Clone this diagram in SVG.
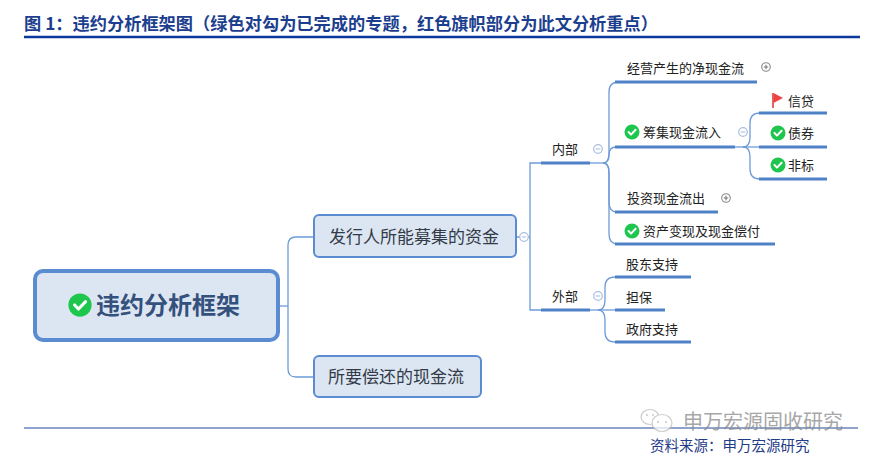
<svg xmlns="http://www.w3.org/2000/svg" width="877" height="462" viewBox="0 0 877 462">
<defs>
<style>
.t{font-family:"Noto Sans CJK SC","Noto Sans",sans-serif;}
.title{font-size:17px;font-weight:bold;fill:#1B3E8E;}
.box{fill:#DCE6F2;stroke:#5B8BD0;stroke-width:2;}
.root{fill:#DCE6F2;stroke:#5B8BD0;stroke-width:4;}
.bt{font-size:17px;fill:#333A48;}
.rt{font-size:24px;font-weight:bold;fill:#34507C;}
.lt{font-size:13px;fill:#222;}
.con{fill:none;stroke:#6E9BD8;stroke-width:1.3;}
.ul{stroke:#4F81C7;stroke-width:3;}
.ck{fill:#1EC64E;}
.tick{fill:none;stroke:#fff;stroke-width:2;stroke-linecap:round;stroke-linejoin:round;}
.cm{fill:#fff;stroke:#A9BEE3;stroke-width:1.2;}
.cp{fill:#fff;stroke:#8A8A8A;stroke-width:1.1;}
</style>
<g id="check"><circle class="ck" r="7.5"/><path class="tick" d="M-3.5,0 L-1,2.6 L3.6,-2.2"/></g>
</defs>

<!-- header -->
<text class="t title" x="24" y="30" textLength="634" lengthAdjust="spacingAndGlyphs">图 1：违约分析框架图（绿色对勾为已完成的专题，红色旗帜部分为此文分析重点）</text>
<line x1="24" y1="37" x2="860" y2="37" stroke="#0B3A9C" stroke-width="2.5"/>

<!-- connectors -->
<g id="connectors">
<path class="con" d="M278,306 H288"/>
<path class="con" d="M313,237 H296 Q288,237 288,245 V369 Q288,377 296,377 H313"/>
<path class="con" d="M517,237 H519.5 M528.5,237 H530"/>
<path class="con" d="M541,163 H530 V310 H541"/>
<!-- 内部 branch -->
<path class="con" d="M590,163 H603"/>
<path class="con" d="M603,163 Q609,163 609,153 V92 Q609,82 619,82 H615"/>
<path class="con" d="M603,163 Q609,163 609,155 Q609,147 616,147"/>
<path class="con" d="M603,163 Q609,163 609,172 V202 Q609,212 617,212"/>
<path class="con" d="M603,163 Q609,163 609,173 V234 Q609,244 618,244"/>
<!-- 外部 branch -->
<path class="con" d="M590,310 H615"/>
<path class="con" d="M598,310 Q605,310 605,300 V287 Q605,277 615,277"/>
<path class="con" d="M598,310 Q605,310 605,320 V332 Q605,342 615,342"/>
<!-- 筹集 branch -->
<path class="con" d="M735,147 H759"/>
<path class="con" d="M743,147 Q750,147 750,137 V123 Q750,113 760,113"/>
<path class="con" d="M743,147 Q750,147 750,157 V169 Q750,179 760,179"/>
<!-- underlines -->
<line class="ul" x1="541" y1="163" x2="590" y2="163"/>
<line class="ul" x1="541" y1="310" x2="590" y2="310"/>
<line class="ul" x1="615" y1="82" x2="757" y2="82"/>
<line class="ul" x1="615" y1="147" x2="735" y2="147"/>
<line class="ul" x1="615" y1="212" x2="718" y2="212"/>
<line class="ul" x1="615" y1="244" x2="775" y2="244"/>
<line class="ul" x1="759" y1="113" x2="827" y2="113"/>
<line class="ul" x1="759" y1="147" x2="827" y2="147"/>
<line class="ul" x1="759" y1="179" x2="827" y2="179"/>
<line class="ul" x1="615" y1="277" x2="691" y2="277"/>
<line class="ul" x1="615" y1="310" x2="665" y2="310"/>
<line class="ul" x1="615" y1="342" x2="691" y2="342"/>
</g>

<!-- root -->
<g id="root">
<rect class="root" x="35" y="271" width="243" height="69" rx="8"/>
<use href="#check" x="80" y="305" transform="translate(80,305) scale(1.55) translate(-80,-305)"/>
<text class="t rt" x="96" y="314">违约分析框架</text>
</g>

<g id="n-raise">
<rect class="box" x="314" y="215" width="202" height="42" rx="5"/>
<text class="t bt" x="329" y="242.5">发行人所能募集的资金</text>
<circle class="cm" cx="524" cy="237" r="4.3"/><line x1="521.8" y1="237" x2="526.2" y2="237" stroke="#A9BEE3" stroke-width="1.1"/>
</g>

<g id="n-repay">
<rect class="box" x="314" y="356" width="167" height="41" rx="5"/>
<text class="t bt" x="328" y="383">所要偿还的现金流</text>
</g>

<g id="n-internal">
<text class="t lt" x="552" y="154">内部</text>
<circle class="cm" cx="598" cy="149" r="4.3"/><line x1="595.8" y1="149" x2="600.2" y2="149" stroke="#A9BEE3" stroke-width="1.1"/>
</g>

<g id="n-external">
<text class="t lt" x="552" y="301">外部</text>
<circle class="cm" cx="598" cy="296" r="4.3"/><line x1="595.8" y1="296" x2="600.2" y2="296" stroke="#A9BEE3" stroke-width="1.1"/>
</g>

<g id="n-opcf">
<text class="t lt" x="627" y="73">经营产生的净现金流</text>
<circle class="cp" cx="766" cy="67" r="4.3"/><path d="M763.8,67 H768.2 M766,64.8 V69.2" stroke="#777" stroke-width="1.1"/>
</g>

<g id="n-fincf">
<use href="#check" x="632" y="132"/>
<text class="t lt" x="643" y="137">筹集现金流入</text>
<circle class="cm" cx="743" cy="132" r="4.3"/><line x1="740.8" y1="132" x2="745.2" y2="132" stroke="#A9BEE3" stroke-width="1.1"/>
</g>

<g id="n-invcf">
<text class="t lt" x="627" y="203">投资现金流出</text>
<circle class="cp" cx="726" cy="198" r="4.3"/><path d="M723.8,198 H728.2 M726,195.8 V200.2" stroke="#777" stroke-width="1.1"/>
</g>

<g id="n-asset">
<use href="#check" x="632" y="231"/>
<text class="t lt" x="643" y="236">资产变现及现金偿付</text>
</g>

<g id="n-credit">
<path d="M773,93 V108" stroke="#E23B3B" stroke-width="1.6"/>
<path d="M773.5,93 L783,98 L773.5,103 Z" fill="#EF4444"/>
<text class="t lt" x="788" y="106">信贷</text>
</g>

<g id="n-bond">
<use href="#check" x="778" y="133"/>
<text class="t lt" x="788" y="138">债券</text>
</g>

<g id="n-nonstd">
<use href="#check" x="778" y="165"/>
<text class="t lt" x="788" y="170">非标</text>
</g>

<g id="n-share">
<text class="t lt" x="626" y="269">股东支持</text>
</g>
<g id="n-guar">
<text class="t lt" x="626" y="302">担保</text>
</g>
<g id="n-gov">
<text class="t lt" x="626" y="334">政府支持</text>
</g>

<!-- footer -->
<line x1="24" y1="428" x2="858" y2="428" stroke="#1F4AA0" stroke-width="1.2"/>
<g id="watermark" opacity="0.75">
<ellipse cx="650" cy="417" rx="9" ry="7.5" fill="none" stroke="#BBBBBB" stroke-width="1.2"/>
<ellipse cx="662" cy="423" rx="10" ry="8.5" fill="#fff" stroke="#BBBBBB" stroke-width="1.2"/>
<circle cx="647" cy="415" r="1" fill="#BBB"/><circle cx="653" cy="415" r="1" fill="#BBB"/>
<circle cx="658" cy="422" r="1.1" fill="#BBB"/><circle cx="666" cy="422" r="1.1" fill="#BBB"/>
<text class="t" x="683" y="429" font-size="20" fill="#8A8A8A">申万宏源固收研究</text>
</g>
<text class="t" x="650" y="451" font-size="14.5" fill="#1F3C88">资料来源：申万宏源研究</text>
</svg>
